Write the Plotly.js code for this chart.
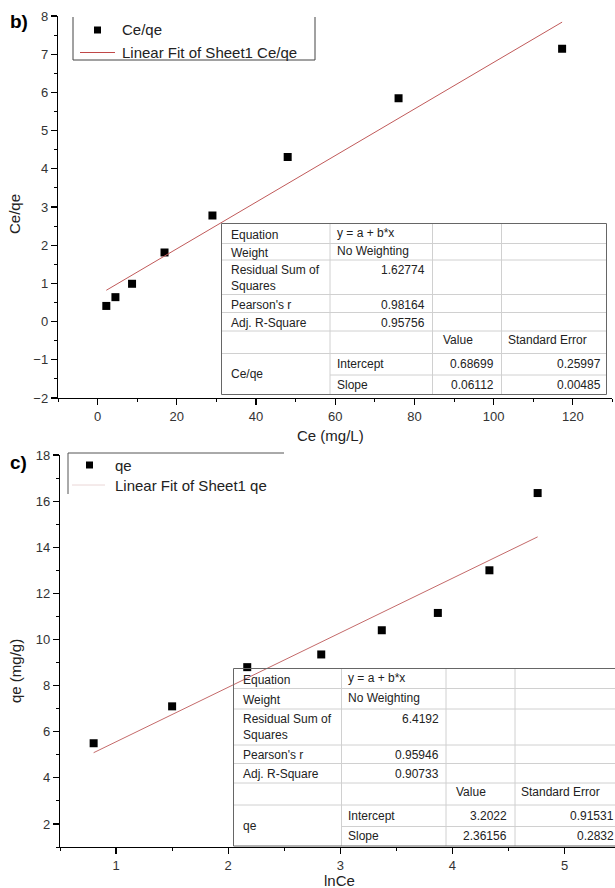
<!DOCTYPE html>
<html>
<head>
<meta charset="utf-8">
<script src="https://cdn.plot.ly/plotly-3.0.1.min.js"></script>
<style>
html,body{margin:0;padding:0;background:#fff;}
#chart{width:615px;height:888px;}
</style>
</head>
<body>
<div id="chart"></div>
<script>
// ---------- DATA ----------
// Panel b) Langmuir plot
const ceValues   = [2.2, 4.5, 8.7, 16.9, 29.0, 48.0, 76.0, 117.3];
const ceQeValues = [0.41, 0.64, 0.99, 1.81, 2.78, 4.31, 5.85, 7.14];
const fitCeX     = [2.2, 117.3];
const fitCeY     = [0.82, 7.84];
// Panel c) Temkin plot
const lnCeValues = [0.80, 1.50, 2.17, 2.83, 3.37, 3.87, 4.33, 4.76];
const qeValues   = [5.5, 7.1, 8.8, 9.35, 10.4, 11.15, 13.0, 16.35];
const fitLnX     = [0.80, 4.76];
const fitLnY     = [5.09, 14.45];

// Fit tables
const tableLabels   = ["Equation", "Weight", "Residual Sum of<br>Squares", "Pearson's r", "Adj. R-Square"];
const tableB_col2   = ["y = a + b*x", "No Weighting", "1.62774", "0.98164", "0.95756"];
const tableC_col2   = ["y = a + b*x", "No Weighting", "6.4192", "0.95946", "0.90733"];
const paramHeaders  = ["Value", "Standard Error"];
const paramNames    = ["Intercept", "Slope"];
const tableB_values = ["0.68699", "0.06112"];
const tableB_errors = ["0.25997", "0.00485"];
const tableC_values = ["3.2022", "2.36156"];
const tableC_errors = ["0.91531", "0.2832"];
const tableB_series = "Ce/qe";
const tableC_series = "qe";

// ---------- LAYOUT HELPERS ----------
const W = 615, H = 888;
const X = px => px / W;
const Y = py => 1 - py / H;
const FONT = "Liberation Sans, Arial, sans-serif";

const shapes = [];
const annotations = [];
function line(x0, y0, x1, y1, color, width) {
  shapes.push({type: "line", xref: "paper", yref: "paper",
    x0: X(x0), y0: Y(y0), x1: X(x1), y1: Y(y1),
    line: {color: color, width: width || 1}});
}
function text(str, x, y, opts) {
  opts = opts || {};
  annotations.push(Object.assign({
    text: str, xref: "paper", yref: "paper", x: X(x), y: Y(y),
    xanchor: opts.xa || "left", yanchor: opts.ya || "middle",
    showarrow: false, align: opts.align || "left",
    font: {family: FONT, size: opts.size || 12, color: opts.color || "#222"}
  }, opts.extra || {}));
}

function drawTable(g, col2, series, values, errors) {
  const dark = "#666", light = "#d0d0d0";
  const r = g.rows;
  for (let i = 1; i < r.length - 1; i++) {
    const startX = (i === r.length - 2) ? g.c1 : g.left;
    line(startX, r[i], g.right, r[i], light, 1);
  }
  line(g.c1, r[0], g.c1, r[r.length - 1], light, 1);
  line(g.c2, r[0], g.c2, r[r.length - 1], light, 1);
  line(g.c3, r[0], g.c3, r[r.length - 1], light, 1);
  line(g.left, r[0], g.right, r[0], dark, 1);
  line(g.left, r[r.length - 1], g.right, r[r.length - 1], dark, 1);
  line(g.left, r[0], g.left, r[r.length - 1], dark, 1);
  line(g.right, r[0], g.right, r[r.length - 1], dark, 1);
  for (let i = 0; i < tableLabels.length; i++) {
    const top = r[i], bot = r[i + 1];
    if (i === 2) {
      text(tableLabels[i], g.left + 7, top + 1, {ya: "top"});
    } else {
      text(tableLabels[i], g.left + 7, (top + bot) / 2 + 1);
    }
    if (i < 2) {
      text(col2[i], g.c1 + 5, (top + bot) / 2 - 1);
    } else {
      text(col2[i], g.c2 - 5, top + 1, {xa: "right", ya: "top"});
    }
  }
  const hTop = r[5], hBot = r[6];
  text(paramHeaders[0], g.c2 + 8, (hTop + hBot) / 2 - 2);
  text(paramHeaders[1], g.c3 + 4, (hTop + hBot) / 2 - 2);
  for (let k = 0; k < 2; k++) {
    const top = r[6 + k], bot = r[7 + k];
    const cy = (top + bot) / 2;
    text(paramNames[k], g.c1 + 5, cy);
    text(values[k], g.c3 - 6, cy, {xa: "right"});
    text(errors[k], g.valRight, cy, {xa: "right"});
  }
  text(series, g.left + 7, (r[6] + r[8]) / 2);
}

// Table b
drawTable({left: 221.5, c1: 330, c2: 432.5, c3: 501.5, right: 606.5, valRight: 603,
  rows: [223.5, 243.5, 260, 294.5, 312.5, 331, 353.5, 375, 394.5]},
  tableB_col2, tableB_series, tableB_values, tableB_errors);
// Table c
drawTable({left: 233.5, c1: 341.5, c2: 446, c3: 515, right: 640, valRight: 616,
  rows: [668.5, 688.5, 709, 745, 763.5, 783, 805, 826.5, 846]},
  tableC_col2, tableC_series, tableC_values, tableC_errors);

// Legends (partial frames as in the reference)
line(73, 17, 73, 60, "#444", 1);
line(315, 17, 315, 60, "#444", 1);
line(73, 60, 315, 60, "#444", 1);
shapes.push({type: "rect", xref: "paper", yref: "paper",
  x0: X(94), x1: X(101), y0: Y(33.5), y1: Y(26.5), fillcolor: "#000", line: {width: 0}});
text("Ce/qe", 120, 30, {size: 15});
line(80, 52.5, 115, 52.5, "#c04848", 1);
text("Linear Fit of Sheet1 Ce/qe", 120, 52.5, {size: 15});

line(68, 453, 68, 494, "#555", 1);
line(68, 453, 284, 453, "#555", 1);
shapes.push({type: "rect", xref: "paper", yref: "paper",
  x0: X(86), x1: X(93), y0: Y(468.5), y1: Y(461.5), fillcolor: "#000", line: {width: 0}});
text("qe", 113, 465, {size: 15});
line(72, 485, 105, 485, "#ead6d6", 1);
text("Linear Fit of Sheet1 qe", 113, 485, {size: 15});

// Panel labels and axis titles
text("<b>b)</b>", 8, 22, {size: 19, color: "#000"});
text("<b>c)</b>", 8, 463, {size: 19, color: "#000"});
text("Ce/qe", 15, 214, {xa: "center", size: 15, extra: {textangle: -90}});
text("Ce (mg/L)", 330, 435, {xa: "center", size: 15});
text("qe (mg/g)", 15, 671, {xa: "center", size: 15, extra: {textangle: -90}});
text("lnCe", 339, 880, {xa: "center", size: 15});

// ---------- TRACES ----------
const markerStyle = {symbol: "square", size: 8, color: "#000"};
const traces = [
  {x: ceValues, y: ceQeValues, type: "scatter", mode: "markers", marker: markerStyle,
   xaxis: "x", yaxis: "y", name: "Ce/qe"},
  {x: fitCeX, y: fitCeY, type: "scatter", mode: "lines", line: {color: "#c05a5a", width: 1},
   xaxis: "x", yaxis: "y", name: "Linear Fit of Sheet1 Ce/qe"},
  {x: lnCeValues, y: qeValues, type: "scatter", mode: "markers", marker: markerStyle,
   xaxis: "x2", yaxis: "y2", name: "qe"},
  {x: fitLnX, y: fitLnY, type: "scatter", mode: "lines", line: {color: "#c46a6a", width: 1},
   xaxis: "x2", yaxis: "y2", name: "Linear Fit of Sheet1 qe"}
];

const axisCommon = {
  showline: true, linecolor: "#000", linewidth: 1.2, showgrid: false, zeroline: false,
  ticks: "outside", ticklen: 6, tickwidth: 1.2, tickcolor: "#000",
  tickfont: {family: FONT, size: 13, color: "#333"}, fixedrange: true,
  minor: {ticks: "outside", ticklen: 3, tickwidth: 1, tickcolor: "#000"}
};

const layout = {
  width: W, height: H, margin: {l: 0, r: 0, t: 0, b: 0},
  paper_bgcolor: "#fff", plot_bgcolor: "rgba(0,0,0,0)",
  showlegend: false,
  font: {family: FONT},
  xaxis: Object.assign({}, axisCommon, {domain: [X(58), X(612.4)], range: [-10, 130],
    dtick: 20, tick0: 0, minor: Object.assign({}, axisCommon.minor, {dtick: 10}),
    anchor: "y"}),
  yaxis: Object.assign({}, axisCommon, {domain: [Y(398), Y(16)], range: [-2, 8],
    dtick: 1, tick0: 0, minor: Object.assign({}, axisCommon.minor, {dtick: 0.5}),
    anchor: "x"}),
  xaxis2: Object.assign({}, axisCommon, {domain: [X(60), 1], range: [0.5, 5.45],
    dtick: 1, tick0: 0, minor: Object.assign({}, axisCommon.minor, {dtick: 0.5}),
    anchor: "y2"}),
  yaxis2: Object.assign({}, axisCommon, {domain: [Y(847), Y(455)], range: [1, 18],
    dtick: 2, tick0: 0, minor: Object.assign({}, axisCommon.minor, {dtick: 1}),
    anchor: "x2"}),
  shapes: shapes,
  annotations: annotations
};

Plotly.newPlot("chart", traces, layout, {displayModeBar: false, staticPlot: true});
</script>
</body>
</html>
